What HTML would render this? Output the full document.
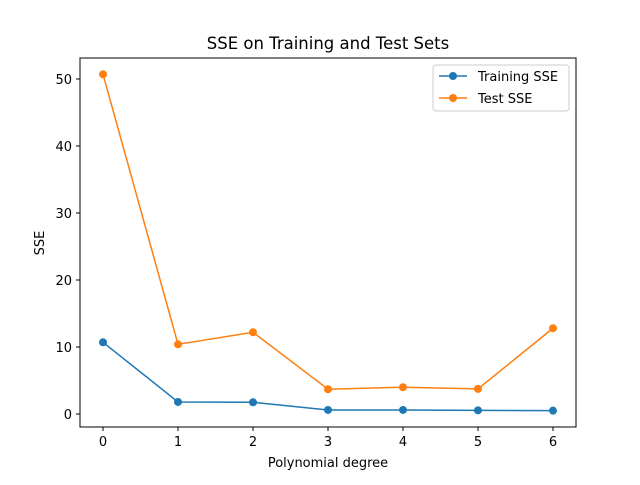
<!DOCTYPE html>
<html><head><meta charset="utf-8"><style>
body{margin:0;background:#fff;}
svg text{font-family:"DejaVu Sans","Liberation Sans",sans-serif;fill:#000;}
</style></head><body>
<svg width="640" height="480">
<rect width="640" height="480" fill="#fff"/>
<text x="328" y="49" font-size="16.5" text-anchor="middle">SSE on Training and Test Sets</text>
<g id="axes"></g>
<text x="328" y="467" font-size="13" text-anchor="middle">Polynomial degree</text>
<text transform="translate(44,243) rotate(-90)" font-size="13" text-anchor="middle">SSE</text>
<g id="series"></g>
<rect x="80" y="58" width="496" height="369" fill="none" stroke="#000" stroke-width="1"/>
<g>
<rect x="433" y="65" width="136" height="46" rx="3" fill="#fff" stroke="#ccc"/>
<g>
<line x1="439" y1="76" x2="467" y2="76" stroke="#1f77b4" stroke-width="1.5"/>
<circle cx="453" cy="76" r="4" fill="#1f77b4"/>
<text x="478" y="81" font-size="13">Training SSE</text></g>
<g>
<line x1="439" y1="98" x2="467" y2="98" stroke="#ff7f0e" stroke-width="1.5"/>
<circle cx="453" cy="98" r="4" fill="#ff7f0e"/>
<text x="478" y="103" font-size="13">Test SSE</text></g>
</g>
</svg>
<script>
const degrees=[0,1,2,3,4,5,6];
const trainSSE=[10.7,1.8,1.75,0.6,0.6,0.55,0.5];
const testSSE=[50.7,10.4,12.2,3.7,4.0,3.75,12.8];
const yTicks=[0,10,20,30,40,50];
const NS="http://www.w3.org/2000/svg";
const X0=80,X1=576,Y0=427,Y1=58,xmin=-0.307,xmax=6.307,ymin=-1.94,ymax=53.13;
const xs=v=>X0+(v-xmin)/(xmax-xmin)*(X1-X0);
const ys=v=>Y0-(v-ymin)/(ymax-ymin)*(Y0-Y1);
function mk(t,a,p){const e=document.createElementNS(NS,t);for(const k in a)e.setAttribute(k,a[k]);p.appendChild(e);return e;}
const ax=document.getElementById('axes');
degrees.forEach(d=>{const x=xs(d);
const l=mk('line',{x1:x,x2:x,y1:427,y2:431,stroke:'#000'},ax);


const t=mk('text',{x:x,y:446,'font-size':13,'text-anchor':'middle'},ax);t.textContent=d;

});
yTicks.forEach(v=>{const y=ys(v);
const l=mk('line',{x1:76,x2:80,y1:y,y2:y,stroke:'#000'},ax);


const t=mk('text',{x:72,y:y+5,'font-size':13,'text-anchor':'end'},ax);t.textContent=v;

});
const sg=document.getElementById('series');
function draw(vals,color,name){
const g=mk('g',{},sg);


mk('polyline',{points:vals.map((v,i)=>xs(degrees[i])+','+ys(v)).join(' '),fill:'none',stroke:color,'stroke-width':1.5},g);
vals.forEach((v,i)=>{const c=mk('circle',{cx:xs(degrees[i]),cy:ys(v),r:4,fill:color},g);

});}
draw(trainSSE,'#1f77b4','training-sse-line');
draw(testSSE,'#ff7f0e','test-sse-line');
</script>
</body></html>
